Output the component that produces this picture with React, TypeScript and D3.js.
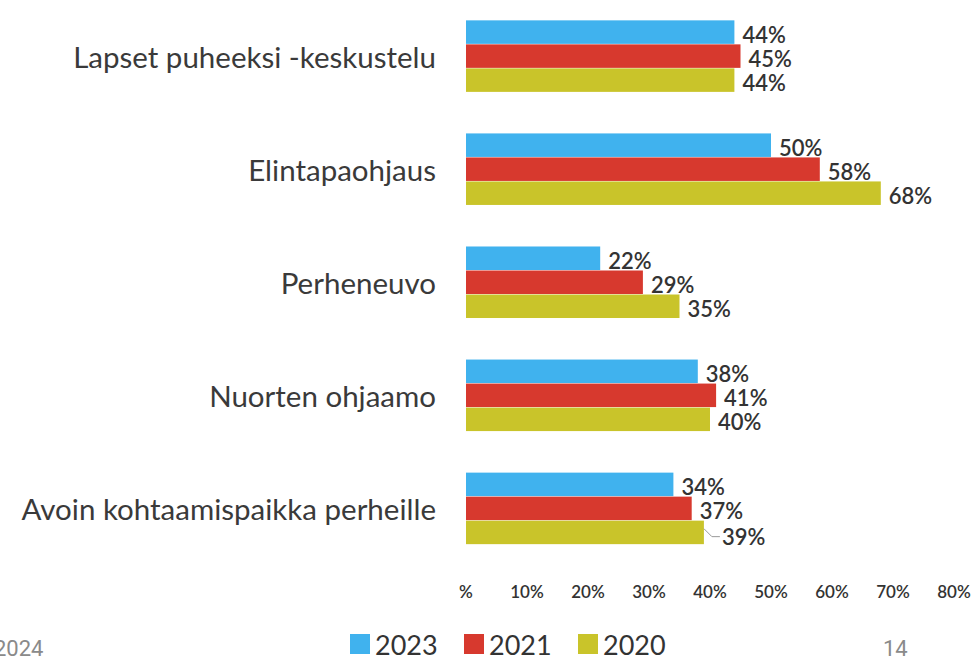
import * as d3 from "d3";

const categories = [
  "Lapset puheeksi -keskustelu",
  "Elintapaohjaus",
  "Perheneuvo",
  "Nuorten ohjaamo",
  "Avoin kohtaamispaikka perheille",
];
const years = ["2023", "2021", "2020"];
const values2023 = [44, 50, 22, 38, 34];
const values2021 = [45, 58, 29, 41, 37];
const values2020 = [44, 68, 35, 40, 39];
const xTicks = [0, 10, 20, 30, 40, 50, 60, 70, 80];
const xTickLabels = ["%", "10%", "20%", "30%", "40%", "50%", "60%", "70%", "80%"];
const colors = ["#40b2ee", "#d7392e", "#c9c42a"];

const W = 978;
const H = 659;
const FONT = "Lato, 'Open Sans', sans-serif";

export default function App() {
  const series = [values2023, values2021, values2020];

  const x = d3.scaleLinear().domain([0, 80]).range([466, 954]);
  const y = d3
    .scaleBand<string>()
    .domain(categories)
    .range([0, 565])
    .paddingInner(0.363)
    .paddingOuter(0.18);
  const inner = d3
    .scaleBand<string>()
    .domain(years)
    .range([0, y.bandwidth()])
    .padding(0);

  return (
    <svg
      width={W}
      height={H}
      viewBox={`0 0 ${W} ${H}`}
      style={{ position: "absolute", left: 0, top: 0, background: "#fff" }}
      fontFamily={FONT}
    >
      {/* category labels */}
      {categories.map((c) => (
        <text
          key={c}
          x={436}
          y={(y(c) ?? 0) + y.bandwidth() / 2}
          textAnchor="end"
          dominantBaseline="central"
          fontSize={29.5}
          fill="#3a3a3a"
        >
          {c}
        </text>
      ))}

      {/* bars */}
      {series.map((vals, si) => (
        <g key={years[si]}>
          {categories.map((c, ci) => {
            const y0 = (y(c) ?? 0) + (inner(years[si]) ?? 0);
            return (
              <rect
                key={c}
                x={x(0)}
                y={y0}
                width={x(vals[ci]) - x(0)}
                height={inner.bandwidth() - 0.5}
                fill={colors[si]}
              />
            );
          })}
        </g>
      ))}

      {/* value labels */}
      {series.map((vals, si) => (
        <g key={"l" + years[si]}>
          {categories.map((c, ci) => {
            const yc = (y(c) ?? 0) + (inner(years[si]) ?? 0) + inner.bandwidth() / 2 + 2;
            const lead = ci === 4 && si === 2;
            const lx = x(vals[ci]) + (lead ? 18 : 8);
            return (
              <g key={c}>
                {lead && (
                  <polyline
                    points={`${x(vals[ci])},${yc - 6} ${x(vals[ci]) + 8},${yc + 2} ${lx - 2},${yc + 2}`}
                    fill="none"
                    stroke="#999"
                    strokeWidth={1}
                  />
                )}
                <text
                  x={lx}
                  y={yc + (lead ? 2 : 0)}
                  dominantBaseline="central"
                  fontSize={22}
                  fontWeight={600}
                  fill="#333"
                >
                  {vals[ci]}%
                </text>
              </g>
            );
          })}
        </g>
      ))}

      {/* x axis tick labels */}
      {xTicks.map((t, i) => (
        <text
          key={t}
          x={x(t)}
          y={591}
          textAnchor="middle"
          dominantBaseline="central"
          fontSize={17}
          fontWeight={600}
          fill="#333"
        >
          {xTickLabels[i]}
        </text>
      ))}

      {/* legend */}
      {years.map((yr, i) => {
        const lx = 350 + i * 114;
        return (
          <g key={yr}>
            <rect x={lx} y={634} width={20} height={20} fill={colors[i]} />
            <text x={lx + 25} y={644} dominantBaseline="central" fontSize={27} fill="#333">
              {yr}
            </text>
          </g>
        );
      })}

      {/* footer */}
      <text x={-6} y={648} dominantBaseline="central" fontSize={22} fill="#8a8a8a" fontFamily="Roboto, sans-serif">
        2024
      </text>
      <text x={883} y={648} dominantBaseline="central" fontSize={22} fill="#8a8a8a" fontFamily="Roboto, sans-serif">
        14
      </text>
    </svg>
  );
}
